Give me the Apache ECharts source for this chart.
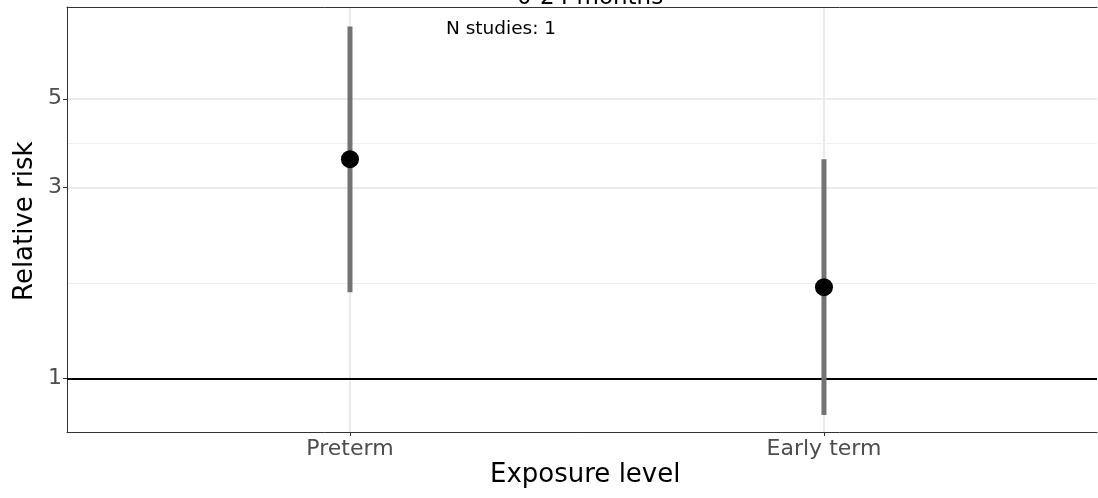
<!DOCTYPE html>
<html><head><meta charset="utf-8">
<script src="https://cdn.jsdelivr.net/npm/echarts@6/dist/echarts.min.js"></script>
<style>html,body{margin:0;padding:0;background:#fff}#c{width:1098px;height:498px}</style>
</head><body><div id="c"></div><script>
const categories = ['Preterm', 'Early term'];
const estimates = [3.53, 1.69];
const lower = [1.64, 0.81];
const upper = [7.58, 3.53];
const yTicks = [1, 3, 5];
const yMinor = [1.732, 3.873];
const refValue = 1;
const panelTitle = '0-24 months';
const annotation = 'N studies: 1';
const xName = 'Exposure level';
const yName = 'Relative risk';

const FONT = 'DejaVu Sans';
const catPos = categories.map((c, i) => i + 1);
const X_MIN = 0.403, X_MAX = 2.576;
const chart = echarts.init(document.getElementById('c'), null, {renderer: 'canvas'});

const gridLines = [];
catPos.forEach(v => gridLines.push({xAxis: v, lineStyle: {color: '#ebebeb', width: 2, type: 'solid'}}));
yTicks.forEach(v => gridLines.push({yAxis: v, lineStyle: {color: '#ebebeb', width: 2, type: 'solid'}}));
yMinor.forEach(v => gridLines.push({yAxis: v, lineStyle: {color: '#f0f0f0', width: 1, type: 'solid'}}));

chart.setOption({
  animation: false,
  grid: {left: 67, top: 7, right: 1, height: 425, show: false},
  xAxis: [{
    type: 'value', min: X_MIN, max: X_MAX, position: 'bottom',
    axisLine: {show: true, onZero: false, lineStyle: {color: '#333333', width: 1}},
    splitLine: {show: false},
    axisTick: {show: true, customValues: catPos, length: 4, lineStyle: {color: '#333333', width: 1}},
    axisLabel: {customValues: catPos, formatter: v => categories[Math.round(v) - 1], fontFamily: FONT, fontSize: 22, color: '#4d4d4d', margin: 6}
  }, {
    type: 'value', min: X_MIN, max: X_MAX, position: 'top',
    axisLine: {show: true, onZero: false, lineStyle: {color: '#333333', width: 1}},
    splitLine: {show: false}, axisTick: {show: false}, axisLabel: {show: false}
  }],
  yAxis: {
    type: 'log', min: 0.734, max: 8.48,
    axisLine: {show: true, onZero: false, lineStyle: {color: '#333333', width: 1}},
    splitLine: {show: false},
    minorSplitLine: {show: false},
    axisTick: {show: true, customValues: yTicks, length: 4, lineStyle: {color: '#333333', width: 1}},
    axisLabel: {customValues: yTicks, formatter: v => String(Math.round(v)), fontFamily: FONT, fontSize: 22, color: '#4d4d4d', margin: 5}
  },
  series: [
    {
      type: 'scatter', data: [], silent: true, z: 0,
      markLine: {silent: true, z: 0, symbol: 'none', label: {show: false}, animation: false, data: gridLines}
    },
    {
      type: 'scatter', data: [], silent: true, z: 1,
      markLine: {silent: true, z: 1, symbol: 'none', label: {show: false}, animation: false,
        data: [{yAxis: refValue, lineStyle: {color: '#000000', width: 2, type: 'solid'}}]}
    },
    {
      type: 'custom', z: 2, silent: true,
      data: catPos.map((x, i) => [x, lower[i], upper[i]]),
      renderItem: (params, api) => {
        const p1 = api.coord([api.value(0), api.value(1)]);
        const p2 = api.coord([api.value(0), api.value(2)]);
        return {type: 'line', shape: {x1: p1[0], y1: p1[1], x2: p2[0], y2: p2[1]},
          style: {stroke: '#737373', lineWidth: 5, lineCap: 'butt'}};
      }
    },
    {
      type: 'scatter', z: 3, silent: true, symbol: 'circle', symbolSize: 18,
      itemStyle: {color: '#000000', opacity: 1},
      data: catPos.map((x, i) => [x, estimates[i]])
    }
  ],
  graphic: [
    {type: 'text', z: 10, x: 517, y: -13, style: {text: panelTitle, fontFamily: FONT, fontSize: 23, fill: '#000'}},
    {type: 'text', z: 10, x: 446, y: 20, style: {text: annotation, fontFamily: FONT, fontSize: 18.5, fill: '#000'}},
    {type: 'text', z: 10, x: 490, y: 462, style: {text: xName, fontFamily: FONT, fontSize: 26, fill: '#000'}},
    {type: 'text', z: 10, rotation: Math.PI / 2, x: 12, y: 301, style: {text: yName, fontFamily: FONT, fontSize: 26, fill: '#000'}}
  ]
});
</script></body></html>
